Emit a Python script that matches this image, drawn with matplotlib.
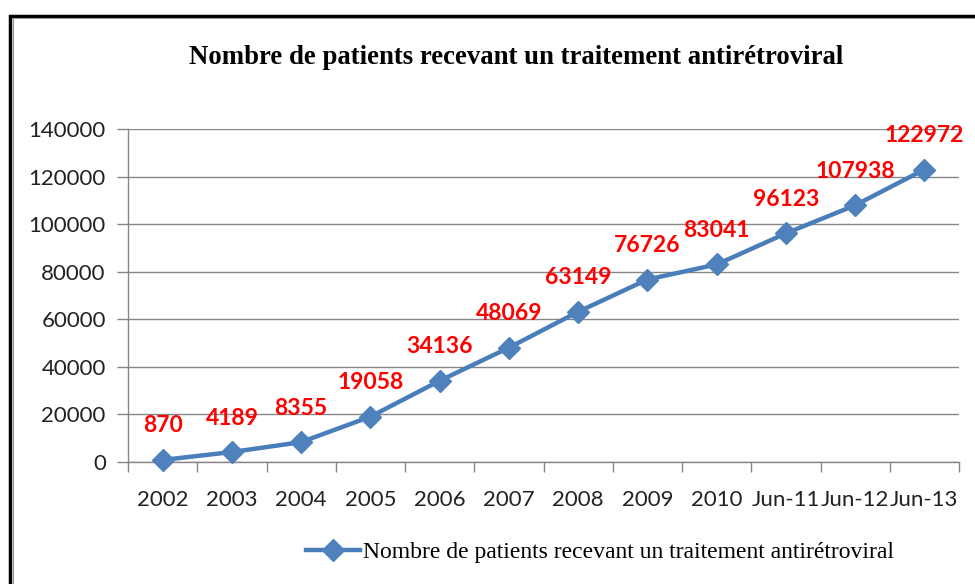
import matplotlib
matplotlib.use("Agg")
import matplotlib.pyplot as plt
from matplotlib.patches import Rectangle
import numpy as np

categories = ["2002", "2003", "2004", "2005", "2006", "2007", "2008", "2009",
              "2010", "Jun-11", "Jun-12", "Jun-13"]
patients = [870, 4189, 8355, 19058, 34136, 48069, 63149, 76726, 83041,
            96123, 107938, 122972]
y_ticks = [0, 20000, 40000, 60000, 80000, 100000, 120000, 140000]
title = "Nombre de patients recevant un traitement antirétroviral"
series_name = "Nombre de patients recevant un traitement antirétroviral"

W, H = 975, 584
fig = plt.figure(figsize=(W / 100, H / 100), dpi=100)
fig.patch.set_facecolor("white")

# outer frame
fig.add_artist(Rectangle((9.5 / W, -0.1), 1.2, 1 - 15.5 / H + 0.1, transform=fig.transFigure,
                         fill=False, edgecolor="black", linewidth=2.5))
fig.add_artist(Rectangle((12.5 / W, -0.1), 1.2, 1 - 18.5 / H + 0.1, transform=fig.transFigure,
                         fill=False, edgecolor="#9a9a9a", linewidth=0.8))

ax = fig.add_axes([128 / W, 1 - 462 / H, (959 - 128) / W, (462 - 129) / H])
x = np.arange(len(categories))
line_color = "#4A7EBB"
ax.plot(x, patients, color=line_color, linewidth=3.2, marker="D", markersize=11,
        markerfacecolor="#4F81BD", markeredgecolor="#4F81BD", label=series_name,
        zorder=3, clip_on=False)

for xi, v in zip(x, patients):
    ax.annotate(f"{v}", (xi, v), xytext=(0, 34), textcoords="offset pixels",
                ha="center", va="center", color="#FF0000", fontsize=16.5,
                fontweight="bold", family="Lato", zorder=4)

ax.set_xlim(-0.5, len(categories) - 0.5)
ax.set_ylim(0, 140000)
ax.set_yticks(y_ticks)
ax.set_yticklabels([str(t) for t in y_ticks])
ax.set_xticks(x)
ax.set_xticklabels(categories)
ax.set_xticks(np.arange(-0.5, len(categories)), minor=True)
ax.tick_params(axis="x", which="major", length=0, pad=20)
ax.tick_params(axis="x", which="minor", length=7, color="#868686", width=1, direction="out")
ax.tick_params(axis="y", length=8, color="#868686", width=1, direction="out", pad=8)
for lab in ax.get_xticklabels() + ax.get_yticklabels():
    lab.set_family("Lato")
    lab.set_fontsize(16)
    lab.set_color("#222222")

ax.grid(axis="y", color="#868686", linewidth=1)
ax.set_axisbelow(True)
for s in ["top", "right"]:
    ax.spines[s].set_visible(False)
for s in ["left", "bottom"]:
    ax.spines[s].set_color("#868686")
    ax.spines[s].set_linewidth(1)

fig.text(516 / W, 1 - 57 / H, title, ha="center", va="center",
         family="Liberation Serif", fontweight="bold", fontsize=19.3)

leg = fig.legend(loc="center", bbox_to_anchor=(600 / W, 1 - 552 / H), frameon=False,
                 prop={"family": "Liberation Serif", "size": 17}, handlelength=2.3,
                 handletextpad=0.1, borderpad=0)

fig.savefig("out.png", dpi=100, facecolor="white")
